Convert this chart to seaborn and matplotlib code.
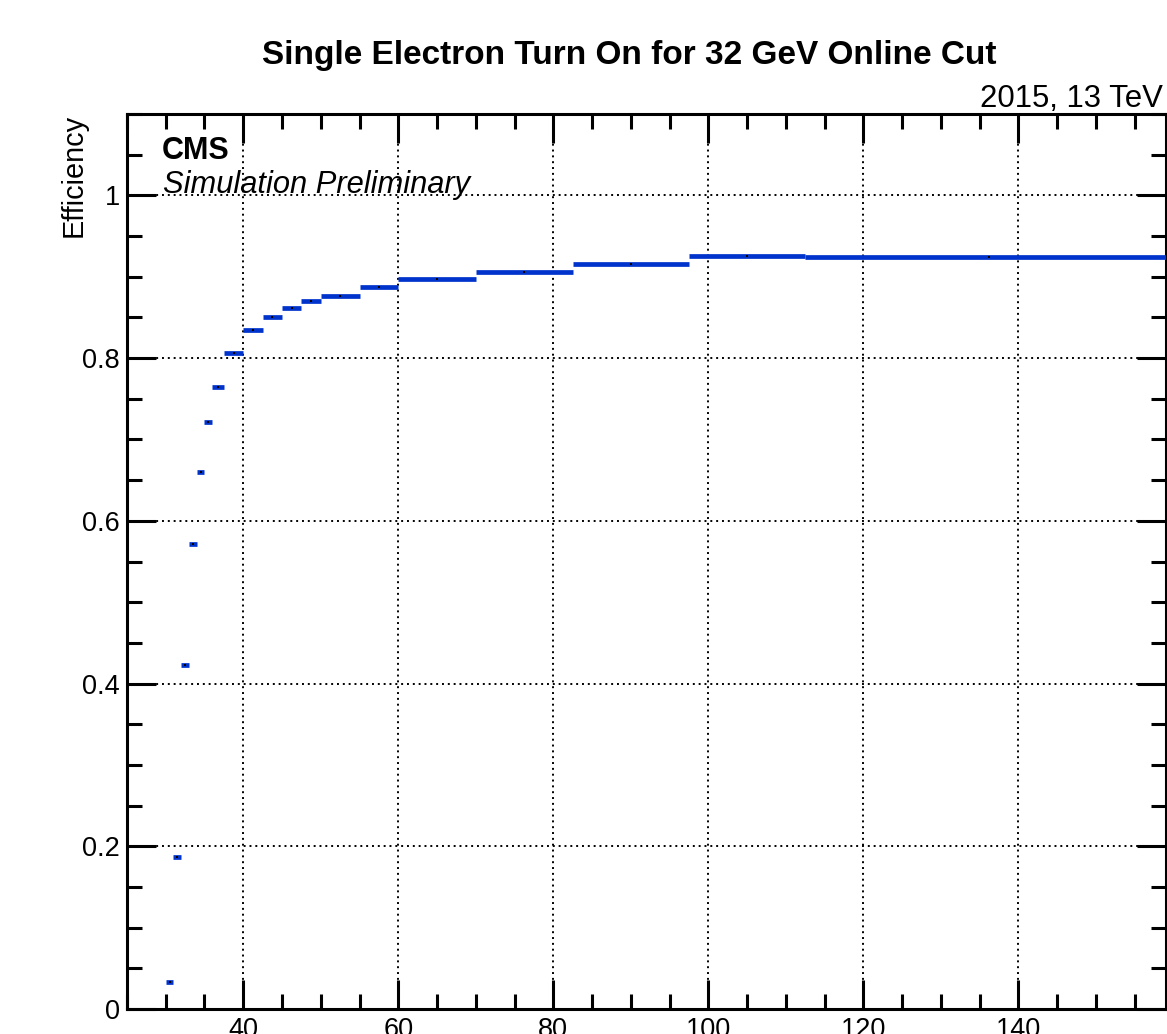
import numpy as np
import pandas as pd
import matplotlib
matplotlib.use("Agg")
import matplotlib.pyplot as plt
from matplotlib.ticker import MultipleLocator, FixedLocator
import seaborn as sns

# ---- data ----
bin_edges = [30, 31, 32, 33, 34, 35, 36, 37.5, 40, 42.5, 45, 47.5, 50, 55, 60, 70, 82.5, 97.5, 112.5, 160]
efficiency = [0.033, 0.187, 0.423, 0.572, 0.660, 0.721, 0.765, 0.806, 0.834, 0.851,
              0.862, 0.870, 0.876, 0.887, 0.897, 0.906, 0.916, 0.926, 0.924]
y_ticks = [0, 0.2, 0.4, 0.6, 0.8, 1.0]
y_ticklabels = ["0", "0.2", "0.4", "0.6", "0.8", "1"]
x_ticks = [40, 60, 80, 100, 120, 140]
x_ticklabels = ["40", "60", "80", "100", "120", "140"]

edges = np.array(bin_edges)
df = pd.DataFrame({
    "pt": (edges[:-1] + edges[1:]) / 2,
    "halfwidth": (edges[1:] - edges[:-1]) / 2,
    "eff": efficiency,
})

sns.set_theme(style="ticks")
plt.rcParams['font.family'] = ['Liberation Sans', 'DejaVu Sans']
plt.rcParams['text.color'] = 'black'
plt.rcParams['axes.labelcolor'] = 'black'
plt.rcParams['xtick.color'] = 'black'
plt.rcParams['ytick.color'] = 'black'

fig = plt.figure(figsize=(11.67, 10.34), dpi=100)
ax = fig.add_axes([0.1088, 0.0242, 0.8901, 0.8655])

ax.errorbar(df["pt"], df["eff"], xerr=df["halfwidth"], fmt='none',
            ecolor='#0033cc', elinewidth=3.4, capsize=0, zorder=3)
sns.scatterplot(data=df, x="pt", y="eff", ax=ax, color='black', marker='s',
                s=3, linewidth=0, zorder=4, legend=False)

ax.set_xlim(25, 159)
ax.set_ylim(0, 1.1)

ax.xaxis.set_major_locator(FixedLocator(x_ticks))
ax.set_xticklabels(x_ticklabels)
ax.xaxis.set_minor_locator(MultipleLocator(5))
ax.yaxis.set_major_locator(FixedLocator(y_ticks))
ax.set_yticklabels(y_ticklabels)
ax.yaxis.set_minor_locator(MultipleLocator(0.05))

ax.tick_params(which='both', direction='in', top=True, right=True,
               bottom=True, left=True, color='black', labelcolor='black', width=2.2)
ax.tick_params(which='major', length=21, labelsize=19.5, pad=6)
ax.tick_params(which='minor', length=10.5)
ax.tick_params(axis='y', which='major', pad=5)

for s in ax.spines.values():
    s.set_linewidth(2.2)
    s.set_color('black')

ax.grid(which='major', color='black', linestyle=(0, (1, 2)), linewidth=1.4)
ax.set_axisbelow(True)
ax.set_xlabel("")
ax.set_ylabel("")

fig.text(0.539, 0.938, "Single Electron Turn On for 32 GeV Online Cut",
         ha='center', va='baseline', fontsize=24, fontweight='bold')
fig.text(0.9966, 0.8968, "2015, 13 TeV", ha='right', va='baseline', fontsize=22.4)
fig.text(0.1386, 0.8462, "CMS", ha='left', va='baseline', fontsize=22, fontweight='bold')
fig.text(0.1394, 0.8136, "Simulation Preliminary", ha='left', va='baseline',
         fontsize=22.2, fontstyle='italic')
fig.text(0.0754, 0.8897, "Efficiency", ha='right', va='top', rotation=90, fontsize=20.8)

fig.savefig("out.png", dpi=100, facecolor='white')
